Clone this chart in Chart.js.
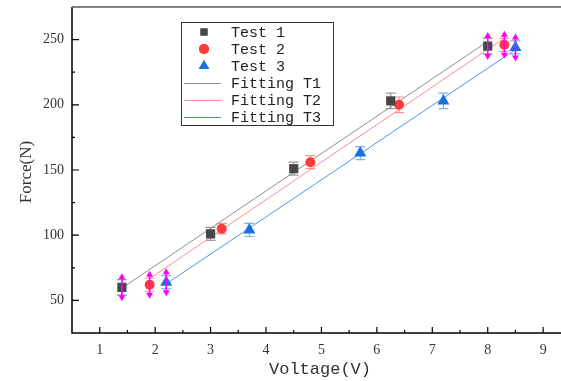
<!DOCTYPE html>
<html>
<head>
<meta charset="utf-8">
<script src="https://cdn.jsdelivr.net/npm/chart.js@4.4.1/dist/chart.umd.min.js"></script>
<style>
    html, body { margin: 0; padding: 0; background: #fff; overflow: hidden; }
    #wrap { width: 569px; height: 381px; }
</style>
</head>
<body>
<div id="wrap"><canvas id="forceChart" width="569" height="381"></canvas></div>
<script>
// Measured points (voltage in V, force in N)
const test1X = [1.4, 3.0, 4.5, 6.25, 8.0];
const test1Y = [60, 101, 151, 203, 245];
const test1Err = [6, 5, 5, 6, 6];

const test2X = [1.9, 3.2, 4.8, 6.4, 8.3];
const test2Y = [62, 105, 156, 200, 246];
const test2Err = [5, 4, 5, 6, 5];

const test3X = [2.2, 3.7, 5.7, 7.2, 8.5];
const test3Y = [64, 104, 163, 203, 244];
const test3Err = [5, 5, 5, 6, 5];

// Points flagged with out-of-range arrows
const arrowIdx = [0, 4];

// Linear fits (end points)
const fitT1X = [1.4, 8.0];
const fitT1Y = [59.4, 248.6];
const fitT2X = [1.9, 8.3];
const fitT2Y = [66.7, 251.1];
const fitT3X = [2.2, 8.5];
const fitT3Y = [62.7, 242.3];

const xTicks = [1, 2, 3, 4, 5, 6, 7, 8, 9];
const yTicks = [50, 100, 150, 200, 250];

const colors = {
    t1: '#474747',
    t2: '#ff3a3a',
    t3: '#1a72e0',
    f1: '#8e8e8e',
    f2: '#ff8c8c',
    f3: '#4f94e6'
};

const pts = (xs, ys) => xs.map((x, i) => ({ x: x, y: ys[i] }));

const series = [
    { label: 'Test 1', xs: test1X, ys: test1Y, err: test1Err, color: colors.t1, style: 'rect', radius: 6.5 },
    { label: 'Test 2', xs: test2X, ys: test2Y, err: test2Err, color: colors.t2, style: 'circle', radius: 5 },
    { label: 'Test 3', xs: test3X, ys: test3Y, err: test3Err, color: colors.t3, style: 'triangle', radius: 7 }
];
const fits = [
    { label: 'Fitting T1', xs: fitT1X, ys: fitT1Y, color: colors.f1 },
    { label: 'Fitting T2', xs: fitT2X, ys: fitT2Y, color: colors.f2 },
    { label: 'Fitting T3', xs: fitT3X, ys: fitT3Y, color: colors.f3 }
];

const datasets = [];
fits.forEach(f => datasets.push({
    type: 'line',
    label: f.label,
    data: pts(f.xs, f.ys),
    borderColor: f.color,
    borderWidth: 1,
    pointRadius: 0,
    fill: false,
    order: 3
}));
series.forEach(s => datasets.push({
    type: 'scatter',
    label: s.label,
    data: pts(s.xs, s.ys),
    pointStyle: s.style,
    pointRadius: s.radius,
    pointBackgroundColor: s.color,
    pointBorderColor: s.color,
    pointBorderWidth: 0,
    order: 1
}));

function hexAlpha(hex, a) {
    const n = parseInt(hex.slice(1), 16);
    return `rgba(${(n >> 16) & 255},${(n >> 8) & 255},${n & 255},${a})`;
}

// Error bars behind the markers
const errorBars = {
    id: 'errorBars',
    beforeDatasetsDraw(chart) {
        const { ctx, scales: { x, y } } = chart;
        ctx.save();
        ctx.lineWidth = 1.2;
        series.forEach(s => {
            ctx.strokeStyle = hexAlpha(s.color, 0.55);
            s.xs.forEach((vx, i) => {
                const px = x.getPixelForValue(vx);
                const top = y.getPixelForValue(s.ys[i] + s.err[i]);
                const bot = y.getPixelForValue(s.ys[i] - s.err[i]);
                ctx.beginPath();
                ctx.moveTo(px, top); ctx.lineTo(px, bot);
                ctx.moveTo(px - 5, top); ctx.lineTo(px + 5, top);
                ctx.moveTo(px - 5, bot); ctx.lineTo(px + 5, bot);
                ctx.stroke();
            });
        });
        ctx.restore();
    }
};

// Axes, inward ticks, titles, arrows and legend
const decorations = {
    id: 'decorations',
    afterDatasetsDraw(chart) {
        const { ctx, chartArea: a, scales: { x, y } } = chart;
        ctx.save();

        // magenta double arrows on end points
        ctx.strokeStyle = '#ff00ff';
        ctx.fillStyle = '#ff00ff';
        ctx.lineWidth = 1.5;
        series.forEach(s => {
            arrowIdx.forEach(i => {
                const px = x.getPixelForValue(s.xs[i]);
                const py = y.getPixelForValue(s.ys[i]);
                ctx.beginPath();
                ctx.moveTo(px, py - 10); ctx.lineTo(px, py + 10);
                ctx.stroke();
                ctx.beginPath();
                ctx.moveTo(px, py - 14); ctx.lineTo(px - 3.5, py - 8); ctx.lineTo(px + 3.5, py - 8);
                ctx.closePath(); ctx.fill();
                ctx.beginPath();
                ctx.moveTo(px, py + 14); ctx.lineTo(px - 3.5, py + 8); ctx.lineTo(px + 3.5, py + 8);
                ctx.closePath(); ctx.fill();
            });
        });

        // frame
        ctx.strokeStyle = '#000';
        ctx.lineWidth = 1.5;
        ctx.beginPath();
        ctx.moveTo(a.left, a.top); ctx.lineTo(a.left, a.bottom); ctx.lineTo(a.right, a.bottom);
        ctx.stroke();
        ctx.strokeStyle = '#5a5a5a';
        ctx.beginPath();
        ctx.moveTo(a.left, a.top); ctx.lineTo(a.right, a.top);
        ctx.stroke();

        // inward ticks
        ctx.strokeStyle = '#000';
        ctx.lineWidth = 1.2;
        ctx.beginPath();
        xTicks.forEach(v => {
            const px = x.getPixelForValue(v);
            ctx.moveTo(px, a.bottom); ctx.lineTo(px, a.bottom - 6);
            const pm = x.getPixelForValue(v + 0.5);
            if (pm < a.right - 2) { ctx.moveTo(pm, a.bottom); ctx.lineTo(pm, a.bottom - 3); }
        });
        yTicks.forEach(v => {
            const py = y.getPixelForValue(v);
            ctx.moveTo(a.left, py); ctx.lineTo(a.left + 7, py);
            const pm = y.getPixelForValue(v - 25);
            if (pm < a.bottom - 2) { ctx.moveTo(a.left, pm); ctx.lineTo(a.left + 3, pm); }
        });
        ctx.stroke();

        // axis titles
        ctx.fillStyle = '#333';
        ctx.textAlign = 'center';
        ctx.textBaseline = 'middle';
        ctx.font = '17px "Liberation Mono", monospace';
        ctx.fillText('Voltage(V)', 320, 369);
        ctx.save();
        ctx.translate(27, 172);
        ctx.rotate(-Math.PI / 2);
        ctx.font = '17px "Liberation Serif", serif';
        ctx.fillText('Force(N)', 0, 0);
        ctx.restore();

        // legend box
        const bx = 181, by = 22, bw = 152, bh = 103;
        ctx.fillStyle = '#fff';
        ctx.fillRect(bx, by, bw, bh);
        ctx.strokeStyle = '#333';
        ctx.lineWidth = 1;
        ctx.strokeRect(bx + 0.5, by + 0.5, bw, bh);
        const rowY = i => 32 + i * 17;
        ctx.font = '15px "Liberation Mono", monospace';
        ctx.textAlign = 'left';
        series.forEach((s, i) => {
            const cy = rowY(i);
            ctx.fillStyle = s.color;
            Chart.helpers.drawPoint(ctx, { pointStyle: s.style, radius: s.style === 'triangle' ? 6 : 5, borderWidth: 0 }, 204, cy);
            ctx.fill();
            ctx.fillStyle = '#222';
            ctx.fillText(s.label, 231, cy + 1);
        });
        fits.forEach((f, i) => {
            const cy = rowY(i + 3);
            ctx.fillStyle = f.color;
            ctx.fillRect(184, cy, 37, 1);
            ctx.fillStyle = '#222';
            ctx.fillText(f.label, 231, cy + 1);
        });

        ctx.restore();
    }
};

new Chart(document.getElementById('forceChart'), {
    data: { datasets: datasets },
    options: {
        responsive: false,
        animation: false,
        layout: { padding: { top: 6, right: 0, left: 0, bottom: 0 } },
        plugins: { legend: { display: false }, tooltip: { enabled: false } },
        scales: {
            x: {
                type: 'linear',
                min: 0.5,
                max: 9.34,
                afterBuildTicks: s => { s.ticks = xTicks.map(v => ({ value: v })); },
                afterFit: s => { s.height = 48; s.paddingLeft = 0; s.paddingRight = 0; },
                grid: { display: false, drawTicks: false },
                border: { display: false },
                ticks: {
                    padding: 9,
                    color: '#333',
                    font: { family: '"Liberation Serif", serif', size: 14 }
                }
            },
            y: {
                type: 'linear',
                min: 25,
                max: 275,
                afterBuildTicks: s => { s.ticks = yTicks.map(v => ({ value: v })); },
                afterFit: s => { s.width = 72; s.paddingTop = 0; s.paddingBottom = 0; },
                grid: { display: false, drawTicks: false },
                border: { display: false },
                ticks: {
                    padding: 8,
                    color: '#333',
                    font: { family: '"Liberation Serif", serif', size: 14 }
                }
            }
        }
    },
    plugins: [errorBars, decorations]
});
</script>
</body>
</html>
